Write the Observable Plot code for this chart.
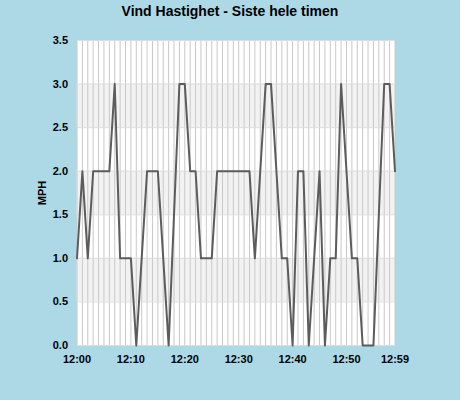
<!DOCTYPE html>
<html>
<head>
<meta charset="utf-8">
<script src="https://cdn.jsdelivr.net/npm/d3@7"></script>
<script src="https://cdn.jsdelivr.net/npm/@observablehq/plot@0.6"></script>
<style>
  html, body { margin: 0; padding: 0; background: #add8e6; }
  #wrap { width: 460px; height: 400px; background: #add8e6; font-family: "Liberation Sans", Arial, sans-serif; }
  #title { height: 22px; line-height: 22px; text-align: center; font-weight: bold; font-size: 14px; color: #000; }
  svg { display: block; }
</style>
</head>
<body>
<div id="wrap">
  <div id="title">Vind Hastighet - Siste hele timen</div>
  <div id="chart"></div>
</div>
<script>
// minute of the hour (12:00 .. 12:59)
const minutes = d3.range(0, 60);
// wind speed (MPH) per minute
const speeds = [
  1, 2, 1, 2, 2, 2, 2, 3, 1, 1,
  1, 0, 1, 2, 2, 2, 1, 0, 1.5, 3,
  3, 2, 2, 1, 1, 1, 2, 2, 2, 2,
  2, 2, 2, 1, 2, 3, 3, 2, 1, 1,
  0, 2, 2, 0, 1, 2, 0, 1, 1, 3,
  2, 1, 1, 0, 0, 0, 1.5, 3, 3, 2
];
const xTicks = [0, 10, 20, 30, 40, 50, 59];
const yTicks = [0, 0.5, 1, 1.5, 2, 2.5, 3, 3.5];
const bandStarts = [0.5, 1.5, 2.5];

const data = minutes.map((m, i) => ({m, v: speeds[i]}));
const fmtX = d => "12:" + String(d).padStart(2, "0");

const chart = Plot.plot({
  width: 460,
  height: 378,
  marginTop: 18,
  marginBottom: 55,
  marginLeft: 76.5,
  marginRight: 65.5,
  style: {background: "transparent", fontFamily: "'Liberation Sans', Arial, sans-serif", fontSize: "11px", fontWeight: "bold", color: "#000"},
  x: {domain: [0, 59]},
  y: {domain: [0, 3.5]},
  marks: [
    Plot.frame({fill: "white", stroke: null}),
    Plot.rect(bandStarts, {y1: d => d, y2: d => d + 0.5, fill: "#f2f2f2"}),
    Plot.ruleX(minutes, {stroke: "#c8c8c8", strokeWidth: 1}),
    Plot.ruleY(yTicks, {stroke: "#dddddd", strokeWidth: 1}),
    Plot.line(data, {x: "m", y: "v", stroke: "#5c5c5c", strokeWidth: 2}),
    Plot.axisX({ticks: xTicks, tickFormat: fmtX, tickSize: 0, tickPadding: 10, label: null, fontWeight: "bold"}),
    Plot.axisY({ticks: yTicks, tickFormat: d3.format(".1f"), tickSize: 0, tickPadding: 9, label: "MPH", labelAnchor: "center", labelArrow: "none", labelOffset: 39, fontWeight: "bold"})
  ]
});
document.getElementById("chart").appendChild(chart);
</script>
</body>
</html>
